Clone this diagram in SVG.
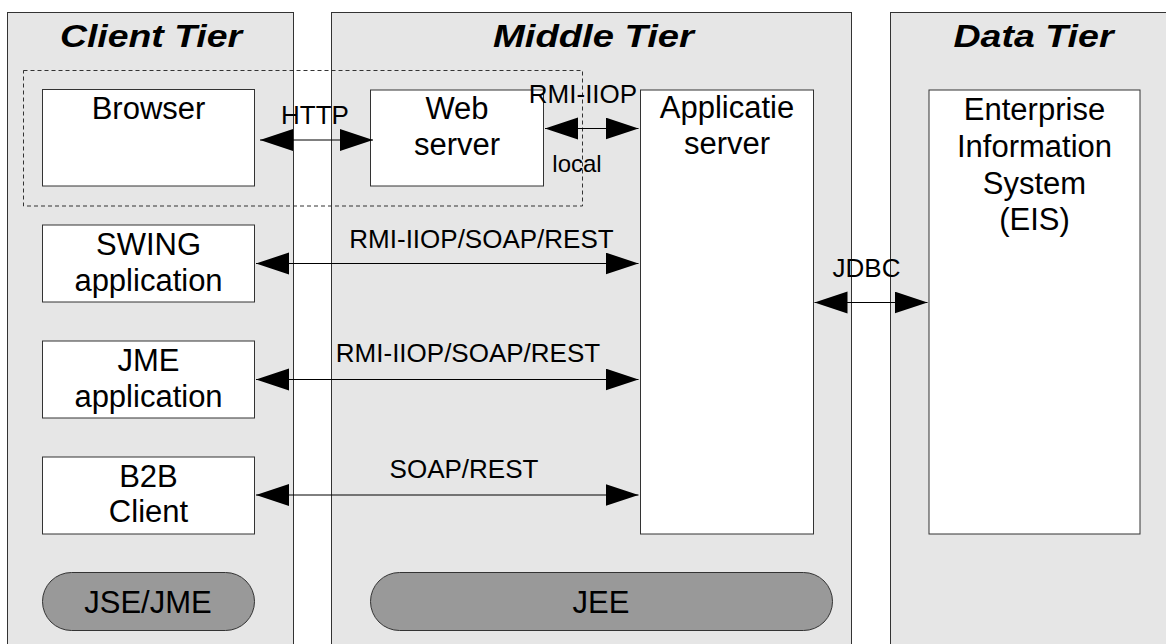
<svg xmlns="http://www.w3.org/2000/svg" width="1166" height="644" viewBox="0 0 1166 644">
  <style>
    .tier { fill: #e6e6e6; stroke: #333333; stroke-width: 1; }
    .box { fill: #ffffff; stroke: #333333; stroke-width: 1; }
    .pill { fill: #999999; stroke: #333333; stroke-width: 1; }
    .group { fill: none; stroke: #333333; stroke-width: 1; stroke-dasharray: 4 3; }
    .conn { stroke: #000000; stroke-width: 1; fill: none; marker-start: url(#ah); marker-end: url(#ah); }
    text { font-family: "Liberation Sans", Arial, sans-serif; fill: #000000; text-anchor: middle; }
    .title { font-size: 31px; font-weight: bold; font-style: italic; }
    .lbl { font-size: 31px; }
    .clbl { font-size: 26px; }
  </style>
  <defs>
    <marker id="ah" markerUnits="userSpaceOnUse" markerWidth="34" markerHeight="23" refX="33" refY="11" orient="auto-start-reverse">
      <path d="M0,0 L33,11 L0,22 Z" fill="#000000"/>
    </marker>
  </defs>

  <g id="client-tier">
    <rect class="tier" x="7.5" y="12.5" width="286" height="660"/>
    <text class="title" x="151" y="47" textLength="182" lengthAdjust="spacingAndGlyphs">Client Tier</text>
  </g>
  <g id="middle-tier">
    <rect class="tier" x="331.5" y="12.5" width="520" height="660"/>
    <text class="title" x="593.5" y="47" textLength="201" lengthAdjust="spacingAndGlyphs">Middle Tier</text>
  </g>
  <g id="data-tier">
    <rect class="tier" x="890.5" y="12.5" width="290" height="660"/>
    <text class="title" x="1033.5" y="47" textLength="160" lengthAdjust="spacingAndGlyphs">Data Tier</text>
  </g>

  <g id="web-group">
    <rect class="group" x="23.5" y="70.5" width="559" height="135.5"/>
  </g>

  <g id="browser">
    <rect class="box" x="42.5" y="89.5" width="212" height="96.5"/>
    <text class="lbl" x="148.5" y="119">Browser</text>
  </g>
  <g id="web-server">
    <rect class="box" x="370.5" y="90" width="173" height="96"/>
    <text class="lbl" x="457" y="118.5">Web</text>
    <text class="lbl" x="457" y="155">server</text>
  </g>
  <g id="applicatie-server">
    <rect class="box" x="640.5" y="90" width="173" height="444"/>
    <text class="lbl" x="727" y="117.5">Applicatie</text>
    <text class="lbl" x="727" y="153.5">server</text>
  </g>
  <g id="eis">
    <rect class="box" x="929" y="90" width="211" height="444"/>
    <text class="lbl" x="1034.5" y="119.5">Enterprise</text>
    <text class="lbl" x="1034.5" y="156.5">Information</text>
    <text class="lbl" x="1034.5" y="193.5">System</text>
    <text class="lbl" x="1034.5" y="230">(EIS)</text>
  </g>
  <g id="swing">
    <rect class="box" x="42.5" y="225" width="212" height="77"/>
    <text class="lbl" x="148.5" y="255">SWING</text>
    <text class="lbl" x="148.5" y="290.5">application</text>
  </g>
  <g id="jme">
    <rect class="box" x="42.5" y="341" width="212" height="77"/>
    <text class="lbl" x="148.5" y="370.5">JME</text>
    <text class="lbl" x="148.5" y="406.5">application</text>
  </g>
  <g id="b2b">
    <rect class="box" x="42.5" y="457" width="212" height="77"/>
    <text class="lbl" x="148.5" y="486.5">B2B</text>
    <text class="lbl" x="148.5" y="521.5">Client</text>
  </g>
  <g id="jse-jme">
    <rect class="pill" x="42.5" y="572.5" width="212" height="58" rx="29" ry="29"/>
    <text class="lbl" x="148" y="612.5">JSE/JME</text>
  </g>
  <g id="jee">
    <rect class="pill" x="370.5" y="572.5" width="462" height="58" rx="29" ry="29"/>
    <text class="lbl" x="601" y="612.5">JEE</text>
  </g>

  <g id="connectors">
    <line class="conn" x1="260" y1="140" x2="373" y2="140"/>
    <line class="conn" x1="545" y1="128.5" x2="638.5" y2="128.5"/>
    <line class="conn" x1="256" y1="263.5" x2="638.5" y2="263.5"/>
    <line class="conn" x1="256" y1="379.5" x2="638.5" y2="379.5"/>
    <line class="conn" x1="256" y1="495" x2="638.5" y2="495"/>
    <line class="conn" x1="814.5" y1="302.5" x2="927.5" y2="302.5"/>
    <text class="clbl" x="315" y="124">HTTP</text>
    <text class="clbl" x="583" y="102.5">RMI-IIOP</text>
    <text class="clbl" x="577" y="171.5" style="font-size:24px">local</text>
    <text class="clbl" x="481.5" y="247.5">RMI-IIOP/SOAP/REST</text>
    <text class="clbl" x="468" y="361.5">RMI-IIOP/SOAP/REST</text>
    <text class="clbl" x="464" y="477.5">SOAP/REST</text>
    <text class="clbl" x="866.5" y="276.5">JDBC</text>
  </g>
</svg>
